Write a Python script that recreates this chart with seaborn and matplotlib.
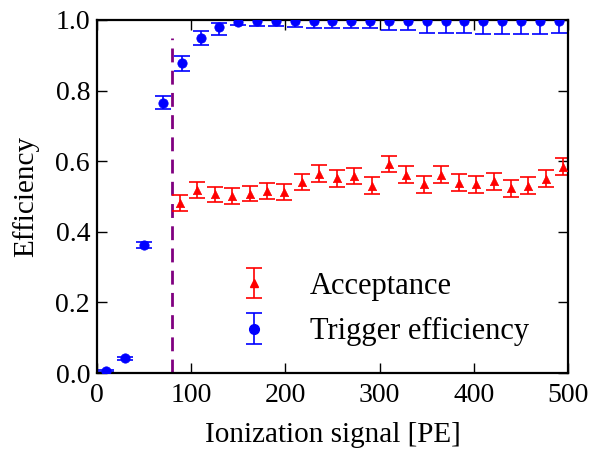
import numpy as np
import pandas as pd
import seaborn as sns
import matplotlib.pyplot as plt
from matplotlib.lines import Line2D
from matplotlib.legend_handler import HandlerTuple

# trigger efficiency (blue)
trig_x = [10, 30, 50, 70, 90, 110, 130, 150, 170, 190, 210, 230, 250,
          270, 290, 310, 330, 350, 370, 390, 410, 430, 450, 470, 490]
trig_y = [0.005, 0.042, 0.363, 0.766, 0.877, 0.948, 0.980, 0.995, 0.996, 0.996,
          0.996, 0.996, 0.996, 0.996, 0.996, 0.996, 0.996, 0.996, 0.996, 0.996,
          0.996, 0.996, 0.996, 0.996, 0.996]
trig_lo = [0.003, 0.004, 0.009, 0.018, 0.022, 0.020, 0.022, 0.008, 0.013, 0.013,
           0.017, 0.020, 0.020, 0.020, 0.020, 0.023, 0.023, 0.034, 0.034, 0.034,
           0.035, 0.035, 0.037, 0.037, 0.034]
trig_hi = [0.003, 0.004, 0.009, 0.018, 0.022, 0.020, 0.011, 0.004, 0.004, 0.004,
           0.004, 0.004, 0.004, 0.004, 0.004, 0.004, 0.004, 0.004, 0.004, 0.004,
           0.004, 0.004, 0.004, 0.004, 0.004]

# acceptance (red)
acc_x = [88, 106.5, 125, 143.5, 162, 180.5, 199, 217.5, 236, 254.5, 273, 291.5,
         310, 328.5, 347, 365.5, 384, 402.5, 421, 439.5, 458, 476.5, 495]
acc_y = [0.482, 0.518, 0.506, 0.501, 0.508, 0.516, 0.513, 0.540, 0.565, 0.551,
         0.559, 0.531, 0.591, 0.562, 0.535, 0.562, 0.539, 0.534, 0.543, 0.523,
         0.530, 0.550, 0.584]
acc_err = [0.022, 0.022, 0.022, 0.022, 0.022, 0.022, 0.023, 0.023, 0.023, 0.023,
           0.023, 0.023, 0.023, 0.023, 0.024, 0.024, 0.024, 0.024, 0.024, 0.024,
           0.024, 0.024, 0.024]

threshold = 80

trig = pd.DataFrame({"signal": trig_x, "eff": trig_y})
acc = pd.DataFrame({"signal": acc_x, "eff": acc_y})

sns.set_style("ticks")
plt.rcParams.update({
    "font.family": ["Liberation Serif", "DejaVu Serif"],
    "font.size": 20,
    "text.color": "black", "axes.labelcolor": "black",
    "xtick.direction": "in", "ytick.direction": "in",
    "xtick.top": True, "ytick.right": True,
    "xtick.major.size": 7, "ytick.major.size": 7,
    "xtick.major.width": 1, "ytick.major.width": 1,
    "xtick.color": "black", "ytick.color": "black",
    "axes.edgecolor": "black", "axes.linewidth": 1.6,
})

fig = plt.figure(figsize=(5.94, 4.5), dpi=100)
ax = fig.add_axes([0.1633, 0.1711, 0.7929, 0.7845])

ax.axvline(threshold, ymin=0, ymax=0.95, color="purple", lw=2,
           ls=(0, (5, 3)), zorder=1)

eb_acc = ax.errorbar(acc_x, acc_y, yerr=acc_err, fmt="none", ecolor="red",
                     elinewidth=1.2, capsize=5.6, capthick=1.2, zorder=2)
sns.scatterplot(data=acc, x="signal", y="eff", marker="^", color="red",
                edgecolor="red", s=36, legend=False, ax=ax, zorder=3)

eb_trig = ax.errorbar(trig_x, trig_y, yerr=[trig_lo, trig_hi], fmt="none",
                      ecolor="blue", elinewidth=1.2, capsize=5.6, capthick=1.2,
                      zorder=2)
sns.scatterplot(data=trig, x="signal", y="eff", marker="o", color="blue",
                edgecolor="blue", s=45, legend=False, ax=ax, zorder=3)

ax.set_xlim(0, 500)
ax.set_ylim(0, 1.0)
ax.set_xticks([0, 100, 200, 300, 400, 500])
ax.set_yticks([0.0, 0.2, 0.4, 0.6, 0.8, 1.0])
ax.set_yticklabels(["0.0", "0.2", "0.4", "0.6", "0.8", "1.0"])
ax.tick_params(labelsize=20)
ax.tick_params(axis="x", pad=7)
ax.tick_params(axis="y", pad=5)
ax.set_xlabel("Ionization signal [PE]", fontsize=21, labelpad=10)
ax.set_ylabel("Efficiency", fontsize=21, labelpad=12)

h_acc = (eb_acc, Line2D([], [], marker="^", ls="none", color="red", ms=6))
h_trig = (eb_trig, Line2D([], [], marker="o", ls="none", color="blue", ms=7))
ax.legend([h_acc, h_trig], ["Acceptance", "Trigger efficiency"],
          handler_map={tuple: HandlerTuple(ndivide=1)},
          loc="upper left", bbox_to_anchor=(0.235, 0.365), frameon=False,
          fontsize=22, handlelength=1.2, handletextpad=1.25, labelspacing=0.55)

fig.savefig("out.png", dpi=100)
